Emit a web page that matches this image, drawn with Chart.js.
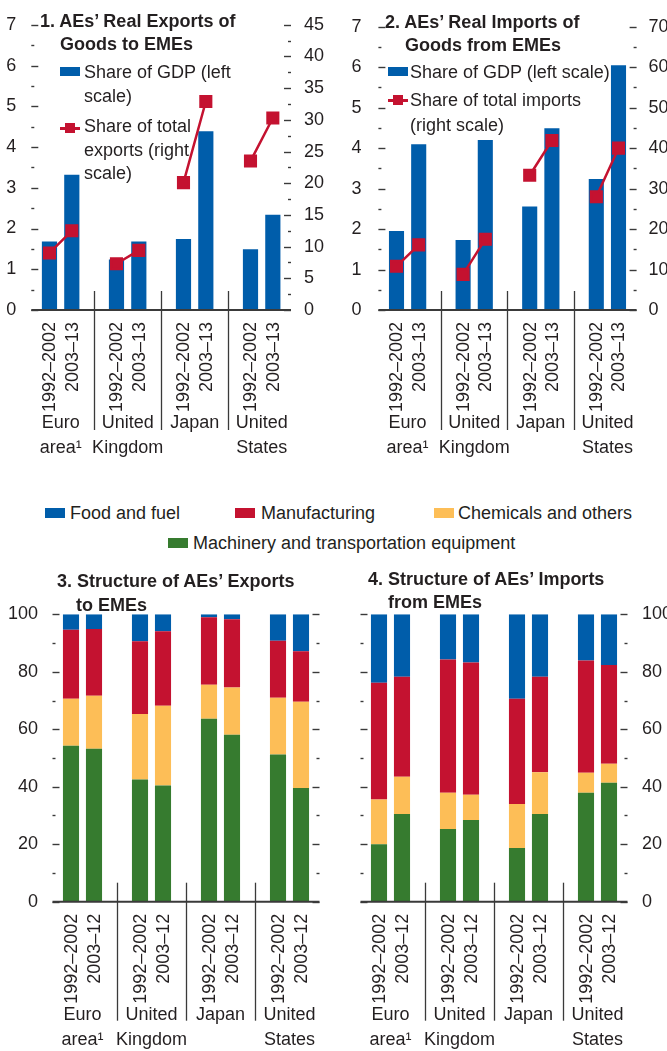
<!DOCTYPE html>
<html>
<head>
<meta charset="utf-8">
<script src="https://cdn.jsdelivr.net/npm/chart.js@4/dist/chart.umd.min.js"></script>
<style>
html,body{margin:0;padding:0;background:#fff;}
body{width:667px;height:1051px;position:relative;overflow:hidden;font-family:'Liberation Sans',Arial,Helvetica,sans-serif;color:#231F20;}
canvas{position:absolute;}
.t{position:absolute;font-weight:bold;font-size:18px;line-height:23px;white-space:nowrap;}
.lg{position:absolute;font-size:18px;line-height:24px;white-space:nowrap;}
.sw{position:absolute;}
</style>
</head>
<body>
<canvas id="c1" width="335" height="470" style="left:0;top:0"></canvas>
<canvas id="c2" width="332" height="470" style="left:335px;top:0"></canvas>
<canvas id="c3" width="335" height="491" style="left:0;top:560px"></canvas>
<canvas id="c4" width="332" height="491" style="left:335px;top:560px"></canvas>

<!-- titles -->
<div class="t" style="left:40px;top:10px;">1. AEs’ Real Exports of<br><span style="padding-left:20px">Goods to EMEs</span></div>
<div class="t" style="left:385px;top:11px;">2. AEs’ Real Imports of<br><span style="padding-left:20px">Goods from EMEs</span></div>
<div class="t" style="left:57px;top:569px;line-height:24px;">3. Structure of AEs’ Exports<br><span style="padding-left:19px">to EMEs</span></div>
<div class="t" style="left:368px;top:568px;">4. Structure of AEs’ Imports<br><span style="padding-left:20px">from EMEs</span></div>

<!-- panel 1 legend -->
<div class="sw" style="left:60px;top:67px;width:20px;height:9px;background:#005DAA"></div>
<div class="lg" style="left:84px;top:60px;">Share of GDP (left<br>scale)</div>
<div class="sw" style="left:60px;top:127px;width:20px;height:2.5px;background:#C41230"></div>
<div class="sw" style="left:65px;top:123px;width:10px;height:10px;background:#C41230"></div>
<div class="lg" style="left:84px;top:115px;line-height:23.5px;">Share of total<br>exports (right<br>scale)</div>

<!-- panel 2 legend -->
<div class="sw" style="left:388px;top:67px;width:20px;height:9px;background:#005DAA"></div>
<div class="lg" style="left:410px;top:60px;">Share of GDP (left scale)</div>
<div class="sw" style="left:388px;top:99px;width:20px;height:2.5px;background:#C41230"></div>
<div class="sw" style="left:393px;top:95px;width:10px;height:10px;background:#C41230"></div>
<div class="lg" style="left:410px;top:88px;line-height:24.5px;">Share of total imports<br>(right scale)</div>

<!-- middle legend -->
<div class="sw" style="left:45px;top:508px;width:20px;height:10px;background:#005DAA"></div>
<div class="lg" style="left:70px;top:501px;">Food and fuel</div>
<div class="sw" style="left:235px;top:508px;width:20px;height:10px;background:#C41230"></div>
<div class="lg" style="left:261px;top:501px;">Manufacturing</div>
<div class="sw" style="left:434px;top:508px;width:20px;height:10px;background:#FDBE57"></div>
<div class="lg" style="left:458px;top:501px;">Chemicals and others</div>
<div class="sw" style="left:168px;top:538px;width:20px;height:10px;background:#367B2F"></div>
<div class="lg" style="left:193px;top:531px;">Machinery and transportation equipment</div>

<script>
// ---------- data ----------
const countries = [['Euro', 'area¹'], ['United', 'Kingdom'], ['Japan'], ['United', 'States']];
const periodsTop = ['1992–2002', '2003–13'];
const periodsBottom = ['1992–2002', '2003–12'];

// Panel 1: real exports of goods to EMEs
const exportsGdp = [1.68, 3.32, 1.24, 1.68, 1.74, 4.39, 1.49, 2.34];        // % of GDP (left)
const exportsShare = [9.0, 12.5, 7.3, 9.4, 20.1, 32.9, 23.5, 30.3];        // % of total exports (right)
// Panel 2: real imports of goods from EMEs
const importsGdp = [1.95, 4.10, 1.73, 4.20, 2.56, 4.49, 3.24, 6.05];
const importsShare = [10.8, 16.1, 8.8, 17.5, 33.3, 41.9, 28.0, 40.0];
// Panel 3: structure of exports (percent)
const expMachinery = [54.3, 53.2, 42.5, 40.4, 63.7, 58.1, 51.2, 39.6];
const expChemicals = [16.3, 18.5, 22.8, 27.8, 11.8, 16.4, 19.8, 30.0];
const expManufacturing = [24.0, 23.2, 25.3, 25.9, 23.5, 23.8, 19.8, 17.5];
const expFoodFuel = [5.4, 5.1, 9.4, 5.9, 1.0, 1.7, 9.2, 12.9];
// Panel 4: structure of imports (percent)
const impMachinery = [20.0, 30.5, 25.3, 28.4, 18.7, 30.5, 37.9, 41.4];
const impChemicals = [15.6, 13.0, 12.6, 8.8, 15.3, 14.5, 7.0, 6.6];
const impManufacturing = [40.6, 34.8, 46.4, 46.0, 36.6, 33.3, 39.0, 34.4];
const impFoodFuel = [23.8, 21.7, 15.7, 16.8, 29.4, 21.7, 16.1, 17.6];

const seriesNames = ['Food and fuel', 'Manufacturing', 'Chemicals and others', 'Machinery and transportation equipment'];

// ---------- styling ----------
const BLUE = '#005DAA', RED = '#C41230', YELLOW = '#FDBE57', GREEN = '#367B2F', INK = '#231F20', LINE = '#3A3A3A';
Chart.defaults.font.family = "'Liberation Sans', Arial, Helvetica, sans-serif";
Chart.defaults.font.size = 18;
Chart.defaults.color = INK;
Chart.defaults.animation = false;

// expand paired values into slots with an empty spacer between countries
function toSlots(vals) {
  const out = [];
  vals.forEach((v, i) => { out.push(v); if (i % 2 === 1 && i < vals.length - 1) out.push(null); });
  return out;
}
function slotLabels(periods) {
  const out = [];
  countries.forEach((c, ci) => { periods.forEach(p => out.push(p)); if (ci < countries.length - 1) out.push(''); });
  return out;
}

// frame plugin: tick marks (major/minor), zero line, group separators, country labels
const framePlugin = {
  id: 'imfFrame',
  afterDatasetsDraw(chart, args, o) {
    const ctx = chart.ctx, ca = chart.chartArea, xs = chart.scales.x;
    ctx.save();
    ctx.strokeStyle = LINE;
    o.axes.forEach(a => {
      const s = chart.scales[a.scale];
      const dir = a.side === 'left' ? -1 : 1;
      const edge = a.side === 'left' ? ca.left : ca.right;
      const outer = edge + dir * 7;
      ctx.lineWidth = 1.4;
      for (let v = s.min; v <= s.max + 1e-9; v += a.minor) {
        const y = Math.round(s.getPixelForValue(v)) + 0.5;
        const r = v / a.major;
        const major = Math.abs(r - Math.round(r)) < 1e-6;
        const len = major ? 7 : 3;
        ctx.beginPath(); ctx.moveTo(outer, y); ctx.lineTo(outer - dir * len, y); ctx.stroke();
      }
    });
    const y0 = chart.scales[o.axes[0].scale].getPixelForValue(0);
    ctx.lineWidth = 2;
    ctx.beginPath(); ctx.moveTo(ca.left - 7, y0); ctx.lineTo(ca.right + 7, y0); ctx.stroke();
    ctx.lineWidth = 1.3;
    chart.data.labels.forEach((l, i) => {
      if (l === '') {
        const px = Math.round(xs.getPixelForValue(i)) + 0.5;
        ctx.beginPath(); ctx.moveTo(px, y0 - 19); ctx.lineTo(px, y0 + o.sepBottom); ctx.stroke();
      }
    });
    ctx.fillStyle = INK;
    ctx.font = "18px 'Liberation Sans', Arial, sans-serif";
    ctx.textAlign = 'center';
    ctx.textBaseline = 'middle';
    o.groups.forEach((g, gi) => {
      const i0 = gi * 3;
      const px = (xs.getPixelForValue(i0) + xs.getPixelForValue(i0 + 1)) / 2;
      g.forEach((line, li) => ctx.fillText(line, px, y0 + 113 + li * 25));
    });
    ctx.restore();
  }
};

function xScale(height) {
  return {
    grid: { display: false }, border: { display: false },
    ticks: { autoSkip: false, maxRotation: 90, minRotation: 90, padding: 4, labelOffset: 1 },
    afterFit: s => { s.height = height; }
  };
}
function yScale(pos, min, max, step, pad, width, showLabels) {
  return {
    position: pos, min: min, max: max,
    ticks: { stepSize: step, padding: pad, display: showLabels !== false },
    grid: { display: false }, border: { display: false },
    afterFit: s => { s.width = width; }
  };
}
const basePlugins = { legend: { display: false }, tooltip: { enabled: false } };

// Panel 1
new Chart(document.getElementById('c1'), {
  type: 'bar',
  data: {
    labels: slotLabels(periodsTop),
    datasets: [
      { type: 'line', label: 'Share of total exports (right scale)', data: toSlots(exportsShare), yAxisID: 'y1',
        borderColor: RED, backgroundColor: RED, borderWidth: 2.5, pointStyle: 'rect', pointRadius: 7.5,
        pointHoverRadius: 7.5, spanGaps: false, tension: 0, order: 0 },
      { label: 'Share of GDP (left scale)', data: toSlots(exportsGdp), yAxisID: 'y', backgroundColor: BLUE,
        barPercentage: 0.68, categoryPercentage: 1, order: 1 }
    ]
  },
  options: {
    responsive: false,
    layout: { padding: { top: 23, left: 0, right: 0, bottom: 0 } },
    plugins: Object.assign({}, basePlugins, { imfFrame: {
      axes: [{ scale: 'y', side: 'left', major: 1, minor: 0.5 }, { scale: 'y1', side: 'right', major: 5, minor: 2.5 }],
      groups: countries, sepBottom: 120 } }),
    scales: {
      x: xScale(160),
      y: yScale('left', 0, 7, 1, 14, 38.3),
      y1: yScale('right', 0, 45, 5, 12, 51)
    }
  },
  plugins: [framePlugin]
});

// Panel 2
new Chart(document.getElementById('c2'), {
  type: 'bar',
  data: {
    labels: slotLabels(periodsTop),
    datasets: [
      { type: 'line', label: 'Share of total imports (right scale)', data: toSlots(importsShare), yAxisID: 'y1',
        borderColor: RED, backgroundColor: RED, borderWidth: 2.5, pointStyle: 'rect', pointRadius: 7.5,
        pointHoverRadius: 7.5, spanGaps: false, tension: 0, order: 0 },
      { label: 'Share of GDP (left scale)', data: toSlots(importsGdp), yAxisID: 'y', backgroundColor: BLUE,
        barPercentage: 0.68, categoryPercentage: 1, order: 1 }
    ]
  },
  options: {
    responsive: false,
    layout: { padding: { top: 23, left: 0, right: 0, bottom: 0 } },
    plugins: Object.assign({}, basePlugins, { imfFrame: {
      axes: [{ scale: 'y', side: 'left', major: 1, minor: 0.5 }, { scale: 'y1', side: 'right', major: 10, minor: 5 }],
      groups: countries, sepBottom: 120 } }),
    scales: {
      x: xScale(160),
      y: yScale('left', 0, 7, 1, 16, 50.4),
      y1: yScale('right', 0, 70, 10, 11, 37.4)
    }
  },
  plugins: [framePlugin]
});

function stackedDatasets(mach, chem, manuf, food) {
  return [
    { label: seriesNames[3], data: toSlots(mach), backgroundColor: GREEN },
    { label: seriesNames[2], data: toSlots(chem), backgroundColor: YELLOW },
    { label: seriesNames[1], data: toSlots(manuf), backgroundColor: RED },
    { label: seriesNames[0], data: toSlots(food), backgroundColor: BLUE }
  ].map(d => Object.assign(d, { barPercentage: 0.7, categoryPercentage: 1, stack: 's' }));
}

// Panel 3
new Chart(document.getElementById('c3'), {
  type: 'bar',
  data: { labels: slotLabels(periodsBottom), datasets: stackedDatasets(expMachinery, expChemicals, expManufacturing, expFoodFuel) },
  options: {
    responsive: false,
    layout: { padding: { top: 54.3, left: 0, right: 22.5, bottom: 0 } },
    plugins: Object.assign({}, basePlugins, { imfFrame: {
      axes: [{ scale: 'y', side: 'left', major: 20, minor: 10 }, { scale: 'y', side: 'right', major: 20, minor: 10 }],
      groups: countries, sepBottom: 119 } }),
    scales: {
      x: Object.assign(xScale(149.3), { stacked: true }),
      y: Object.assign(yScale('left', 0, 100, 20, 13.5, 59.5), { stacked: true })
    }
  },
  plugins: [framePlugin]
});

// Panel 4
new Chart(document.getElementById('c4'), {
  type: 'bar',
  data: { labels: slotLabels(periodsBottom), datasets: stackedDatasets(impMachinery, impChemicals, impManufacturing, impFoodFuel) },
  options: {
    responsive: false,
    layout: { padding: { top: 54.3, left: 32.5, right: 0, bottom: 0 } },
    plugins: Object.assign({}, basePlugins, { imfFrame: {
      axes: [{ scale: 'y', side: 'left', major: 20, minor: 10 }, { scale: 'y', side: 'right', major: 20, minor: 10 }],
      groups: countries, sepBottom: 119 } }),
    scales: {
      x: Object.assign(xScale(149.3), { stacked: true }),
      y: Object.assign(yScale('right', 0, 100, 20, 13.5, 46.5), { stacked: true })
    }
  },
  plugins: [framePlugin]
});
</script>
</body>
</html>
